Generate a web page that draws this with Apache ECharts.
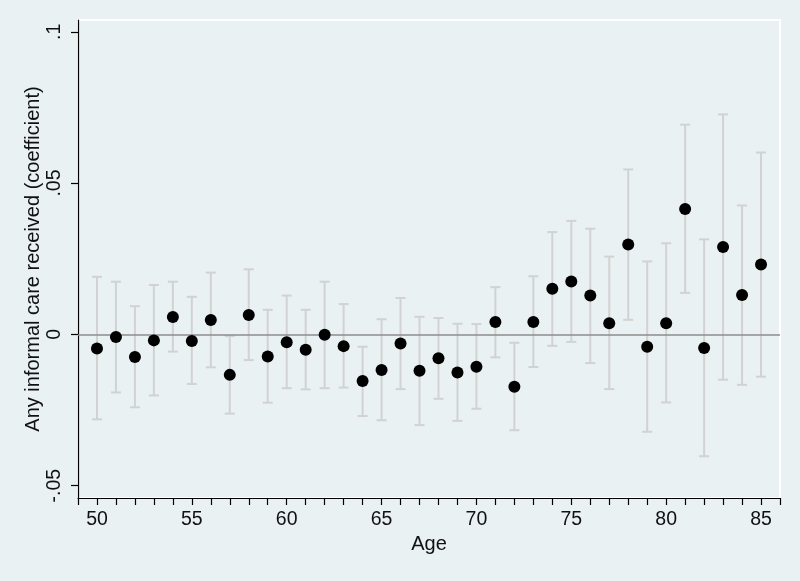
<!DOCTYPE html>
<html>
<head>
<meta charset="utf-8">
<script src="https://cdn.jsdelivr.net/npm/echarts@6/dist/echarts.min.js"></script>
<style>
  html, body { margin: 0; padding: 0; background: #e9f1f3; }
  #main { width: 800px; height: 581px; }
</style>
</head>
<body>
<div id="main"></div>
<script>
// age groups
const ages = [50, 51, 52, 53, 54, 55, 56, 57, 58, 59, 60, 61, 62, 63, 64, 65, 66, 67,
              68, 69, 70, 71, 72, 73, 74, 75, 76, 77, 78, 79, 80, 81, 82, 83, 84, 85];
// point estimates
const coef = [-0.0047, -0.0009, -0.0075, -0.0020, 0.0057, -0.0022, 0.0047, -0.0134, 0.0064,
              -0.0073, -0.0026, -0.0051, -0.0001, -0.0039, -0.0154, -0.0118, -0.0030, -0.0120,
              -0.0079, -0.0126, -0.0107, 0.0041, -0.0173, 0.0041, 0.0151, 0.0175, 0.0128,
              0.0037, 0.0297, -0.0041, 0.0037, 0.0414, -0.0045, 0.0289, 0.0130, 0.0231];
// confidence interval, upper end
const upper = [0.0190, 0.0174, 0.0093, 0.0163, 0.0174, 0.0124, 0.0204, -0.0006, 0.0215,
               0.0081, 0.0128, 0.0081, 0.0174, 0.0100, -0.0041, 0.0050, 0.0120, 0.0058,
               0.0054, 0.0035, 0.0034, 0.0156, -0.0028, 0.0192, 0.0338, 0.0375, 0.0349,
               0.0257, 0.0545, 0.0241, 0.0301, 0.0693, 0.0314, 0.0727, 0.0426, 0.0601];
// confidence interval, lower end
const lower = [-0.0281, -0.0192, -0.0241, -0.0202, -0.0057, -0.0164, -0.0109, -0.0262, -0.0085,
               -0.0226, -0.0178, -0.0182, -0.0178, -0.0176, -0.0270, -0.0284, -0.0181, -0.0300,
               -0.0213, -0.0286, -0.0246, -0.0076, -0.0317, -0.0108, -0.0038, -0.0025, -0.0095,
               -0.0181, 0.0048, -0.0322, -0.0225, 0.0137, -0.0403, -0.0150, -0.0167, -0.0140];
// y axis ticks and labels
const yTicks = [-0.05, 0, 0.05, 0.1];
const yTickLabels = ['-.05', '0', '.05', '.1'];

const font = 'Liberation Sans, Arial, sans-serif';

let myChart = echarts.init(document.getElementById('main'));

const barData = ages.map((a, i) => [a, lower[i], upper[i]]);
const pointData = ages.map((a, i) => [a, coef[i]]);

function renderBar(params, api) {
  const x = api.value(0);
  const lo = api.coord([x, api.value(1)]);
  const hi = api.coord([x, api.value(2)]);
  const hw = 5;
  const style = { stroke: '#d2d2d2', lineWidth: 2 };
  return {
    type: 'group',
    children: [
      { type: 'line', shape: { x1: lo[0], y1: lo[1], x2: hi[0], y2: hi[1] }, style: style },
      { type: 'line', shape: { x1: hi[0] - hw, y1: hi[1], x2: hi[0] + hw, y2: hi[1] }, style: style },
      { type: 'line', shape: { x1: lo[0] - hw, y1: lo[1], x2: lo[0] + hw, y2: lo[1] }, style: style }
    ]
  };
}

let option = {
  backgroundColor: '#e9f1f3',
  animation: false,
  grid: {
    left: 78,
    right: 20,
    top: 20,
    bottom: 83,
    show: true,
    borderColor: '#ffffff',
    borderWidth: 2,
    backgroundColor: 'transparent'
  },
  xAxis: {
    type: 'value',
    min: 49,
    max: 86,
    interval: 1,
    name: 'Age',
    nameLocation: 'middle',
    nameGap: 35,
    nameTextStyle: { fontFamily: font, fontSize: 20, color: '#111' },
    axisLine: { onZero: false, lineStyle: { color: '#000', width: 1.2 } },
    axisTick: { length: 7, lineStyle: { color: '#000', width: 1.2 } },
    axisLabel: {
      margin: 12,
      fontFamily: font,
      fontSize: 19.5,
      color: '#111',
      formatter: v => (v % 5 === 0 && v >= 50 && v <= 85) ? String(v) : ''
    },
    splitLine: { show: false }
  },
  yAxis: {
    type: 'value',
    min: -0.0541,
    max: 0.1039,
    name: 'Any informal care received (coefficient)',
    nameLocation: 'middle',
    nameGap: 35,
    nameMoveOverlap: false,
    nameTextStyle: { fontFamily: font, fontSize: 20, color: '#111' },
    axisLine: { show: true, onZero: false, lineStyle: { color: '#000', width: 1.2 } },
    axisTick: { show: true, length: 7, lineStyle: { color: '#000', width: 1.2 }, customValues: yTicks },
    axisLabel: {
      rotate: 90,
      margin: 13,
      fontFamily: font,
      fontSize: 19.5,
      color: '#111',
      customValues: yTicks,
      formatter: v => {
        const i = yTicks.findIndex(t => Math.abs(t - v) < 1e-9);
        return i >= 0 ? yTickLabels[i] : '';
      }
    },
    splitLine: { show: false }
  },
  series: [
    {
      name: 'CI',
      type: 'custom',
      renderItem: renderBar,
      encode: { x: 0, y: [1, 2] },
      data: barData,
      z: 1,
      markLine: {
        silent: true,
        symbol: 'none',
        label: { show: false },
        lineStyle: { color: '#8c8c8c', width: 1.5, type: 'solid' },
        data: [{ yAxis: 0 }],
        z: 2
      }
    },
    {
      name: 'Coefficient',
      type: 'scatter',
      symbol: 'circle',
      symbolSize: 12,
      itemStyle: { color: '#000', opacity: 1 },
      data: pointData,
      z: 3
    }
  ]
};
myChart.setOption(option);
</script>
</body>
</html>
